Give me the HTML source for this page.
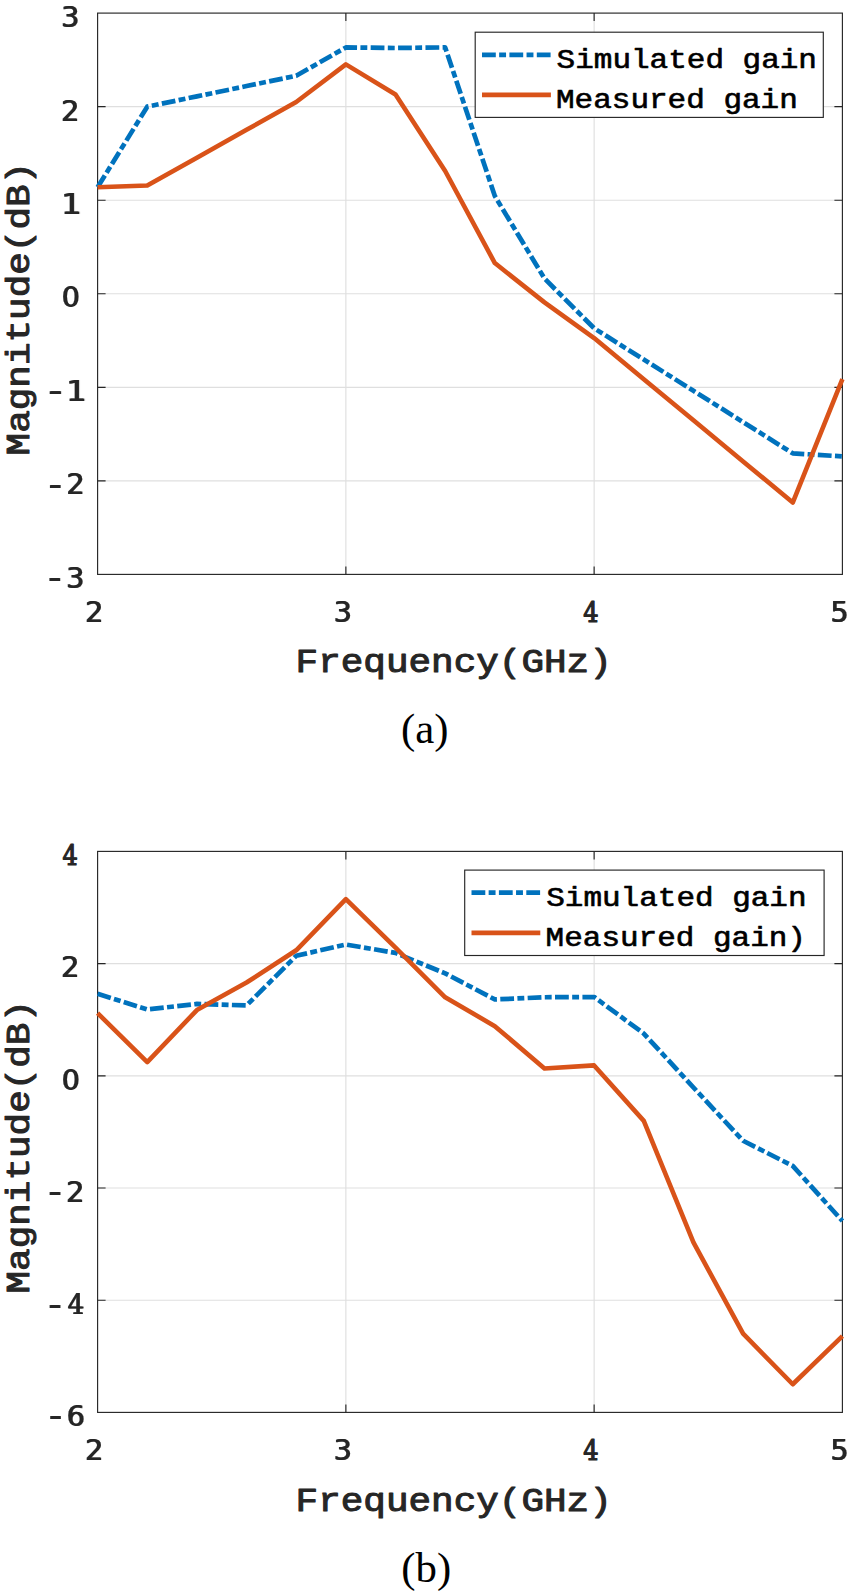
<!DOCTYPE html>
<html lang="en"><head><meta charset="utf-8"><title>Simulated and measured gain</title>
<style>
html,body{margin:0;padding:0;background:#fff}
svg{display:block}
.m{font-family:"Liberation Mono", monospace;font-weight:bold}
.a{font-family:"Liberation Mono", monospace;font-weight:normal;fill:#262626;stroke:#262626;stroke-width:1.15px;stroke-linejoin:round}
.l{font-family:"Liberation Mono", monospace;font-weight:normal;fill:#000;stroke:#000;stroke-width:.7px;stroke-linejoin:round}
.s{font-family:"DejaVu Sans", "Liberation Sans", sans-serif;font-weight:normal;fill:#262626;stroke:#262626;stroke-width:.2px;stroke-linejoin:round;filter:drop-shadow(1px 0 0 #262626)}
.f{font-family:"DejaVu Serif Condensed","DejaVu Serif",serif;font-weight:normal;fill:#262626;stroke:#262626;stroke-width:1.2px;stroke-linejoin:round}
.m4{font-family:"DejaVu Serif Condensed","DejaVu Serif",serif;font-weight:normal}
.c{font-family:"Liberation Serif", serif;font-size:42.8px;fill:#000}
</style></head><body>
<svg width="850" height="1595" viewBox="0 0 850 1595">
<rect width="850" height="1595" fill="#fff"/>
<path d="M345.87 13.10V574.40M594.13 13.10V574.40M97.60 480.85H842.40M97.60 387.30H842.40M97.60 293.75H842.40M97.60 200.20H842.40M97.60 106.65H842.40" stroke="#dfdfdf" stroke-width="1.15" fill="none"/>
<rect x="97.60" y="13.10" width="744.80" height="561.30" fill="none" stroke="#262626" stroke-width="1.15"/>
<path d="M345.87 574.40v-8M345.87 13.10v8M594.13 574.40v-8M594.13 13.10v8M97.60 480.85h8M842.40 480.85h-8M97.60 387.30h8M842.40 387.30h-8M97.60 293.75h8M842.40 293.75h-8M97.60 200.20h8M842.40 200.20h-8M97.60 106.65h8M842.40 106.65h-8" stroke="#262626" stroke-width="1.15" fill="none"/>
<g fill="none" stroke-linejoin="round">
<polyline points="97.60,187.29 147.25,106.65 196.91,96.36 246.56,86.07 296.21,75.78 345.87,47.43 395.52,47.99 445.17,47.43 494.83,195.99 544.48,278.50 594.13,328.27 643.79,359.54 693.44,390.81 743.09,422.08 792.75,453.35 842.40,456.43" stroke="#0072BD" stroke-width="4.7" stroke-dasharray="13.8 3.35 6.9 3.35"/>
<polyline points="97.60,187.29 147.25,185.51 196.91,157.66 246.56,129.82 296.21,101.97 345.87,64.37 395.52,94.49 445.17,171.01 494.83,263.07 544.48,302.36 594.13,338.09 643.79,379.21 693.44,420.32 743.09,461.44 792.75,502.55 842.40,379.16" stroke="#D95319" stroke-width="4.6"/>
</g>
<rect x="475.2" y="32.2" width="348.10" height="85.20" fill="#fff" stroke="#262626" stroke-width="1.15"/>
<path d="M482.0 54.9H550.9" stroke="#0072BD" stroke-width="4.7" stroke-dasharray="13.8 3.35 6.9 3.35" fill="none"/>
<path d="M482.0 94.9H550.9" stroke="#D95319" stroke-width="4.6" fill="none"/>
<text class="l" font-size="31.0" transform="translate(556.6 67.8) scale(1 0.87)">Simulated gain</text>
<text class="l" font-size="31.0" transform="translate(556.0 107.6) scale(1 0.87)">Measured gain</text>
<text class="s" font-size="28.5" text-anchor="middle" x="69.70" y="27.40">3</text>
<text class="s" font-size="28.5" text-anchor="middle" x="69.90" y="120.75">2</text>
<text class="s" font-size="28.5" text-anchor="middle" transform="translate(71.00 214.10) scale(1.12 1)">1</text>
<text class="s" font-size="28.5" text-anchor="middle" x="70.40" y="307.45">0</text>
<text class="s" text-anchor="middle" transform="translate(0 400.70) scale(1.12 1)"><tspan x="49.02" dy="1.4" font-size="34.2">-</tspan><tspan x="67.77" dy="-1.4" font-size="28.5">1</tspan></text>
<text class="s" text-anchor="middle" y="494.35"><tspan x="54.70" dy="1.4" font-size="36.3">-</tspan><tspan x="75.10" dy="-1.4" font-size="28.5">2</tspan></text>
<text class="s" text-anchor="middle" y="588.00"><tspan x="54.40" dy="1.4" font-size="36.3">-</tspan><tspan x="74.80" dy="-1.4" font-size="28.5">3</tspan></text>
<text class="s" font-size="28.5" text-anchor="middle" x="93.80" y="622.00">2</text>
<text class="s" font-size="28.5" text-anchor="middle" x="342.20" y="622.00">3</text>
<text class="f" font-size="28.8" text-anchor="middle" transform="translate(590.90 621.80) scale(.93 1)">4</text>
<text class="s" font-size="28.5" text-anchor="middle" x="839.00" y="622.00">5</text>
<text class="a" font-size="37.65" transform="translate(295.6 671.7) scale(1 0.87)">Frequency(GHz)</text>
<text class="a" font-size="37.65" transform="translate(29.0 455.4) rotate(-90) scale(1 0.87)">Magnitude(dB)</text>
<text class="c" x="401.0" y="742.9">(a)</text>
<path d="M345.87 851.40V1412.40M594.13 851.40V1412.40M97.60 1300.20H842.40M97.60 1188.00H842.40M97.60 1075.80H842.40M97.60 963.60H842.40" stroke="#dfdfdf" stroke-width="1.15" fill="none"/>
<rect x="97.60" y="851.40" width="744.80" height="561.00" fill="none" stroke="#262626" stroke-width="1.15"/>
<path d="M345.87 1412.40v-8M345.87 851.40v8M594.13 1412.40v-8M594.13 851.40v8M97.60 1300.20h8M842.40 1300.20h-8M97.60 1188.00h8M842.40 1188.00h-8M97.60 1075.80h8M842.40 1075.80h-8M97.60 963.60h8M842.40 963.60h-8" stroke="#262626" stroke-width="1.15" fill="none"/>
<g fill="none" stroke-linejoin="round">
<polyline points="97.60,993.84 147.25,1009.43 196.91,1003.94 246.56,1005.45 296.21,955.80 345.87,944.53 395.52,952.94 445.17,973.36 494.83,999.45 544.48,997.26 594.13,996.98 643.79,1033.56 693.44,1087.47 743.09,1140.76 792.75,1165.90 842.40,1220.99" stroke="#0072BD" stroke-width="4.7" stroke-dasharray="13.8 3.35 6.9 3.35"/>
<polyline points="97.60,1013.14 147.25,1062.17 196.91,1010.05 246.56,982.51 296.21,950.30 345.87,899.08 395.52,947.72 445.17,997.26 494.83,1026.15 544.48,1068.45 594.13,1065.42 643.79,1120.85 693.44,1242.42 743.09,1333.69 792.75,1384.24 842.40,1336.16" stroke="#D95319" stroke-width="4.6"/>
</g>
<rect x="464.7" y="870.1" width="359.40" height="85.40" fill="#fff" stroke="#262626" stroke-width="1.15"/>
<path d="M471.5 892.6H540.3" stroke="#0072BD" stroke-width="4.7" stroke-dasharray="13.8 3.35 6.9 3.35" fill="none"/>
<path d="M471.5 932.9H540.3" stroke="#D95319" stroke-width="4.6" fill="none"/>
<text class="l" font-size="31.0" transform="translate(546.2 905.7) scale(1 0.87)">Simulated gain</text>
<text class="l" font-size="31.0" transform="translate(545.6 945.7) scale(1 0.87)">Measured gain)</text>
<text class="f" font-size="28.8" text-anchor="middle" transform="translate(70.20 865.10) scale(.93 1)">4</text>
<text class="s" font-size="28.5" text-anchor="middle" x="69.80" y="977.40">2</text>
<text class="s" font-size="28.5" text-anchor="middle" x="70.40" y="1089.60">0</text>
<text class="s" text-anchor="middle" y="1201.70"><tspan x="54.50" dy="1.4" font-size="36.3">-</tspan><tspan x="74.90" dy="-1.4" font-size="28.5">2</tspan></text>
<text class="s" text-anchor="middle" y="1314.30"><tspan x="54.50" dy="1.4" font-size="36.3">-</tspan><tspan class="m4" x="75.40" dy="-1.4" font-size="28.8">4</tspan></text>
<text class="s" text-anchor="middle" y="1425.90"><tspan x="55.00" dy="1.4" font-size="36.3">-</tspan><tspan x="75.40" dy="-1.4" font-size="28.5">6</tspan></text>
<text class="s" font-size="28.5" text-anchor="middle" x="93.80" y="1459.70">2</text>
<text class="s" font-size="28.5" text-anchor="middle" x="342.20" y="1459.70">3</text>
<text class="f" font-size="28.8" text-anchor="middle" transform="translate(590.90 1459.50) scale(.93 1)">4</text>
<text class="s" font-size="28.5" text-anchor="middle" x="839.00" y="1459.70">5</text>
<text class="a" font-size="37.65" transform="translate(295.6 1511.4) scale(1 0.87)">Frequency(GHz)</text>
<text class="a" font-size="37.65" transform="translate(29.0 1293.5) rotate(-90) scale(1 0.87)">Magnitude(dB)</text>
<text class="c" x="401.3" y="1582.0">(b)</text>
</svg></body></html>
